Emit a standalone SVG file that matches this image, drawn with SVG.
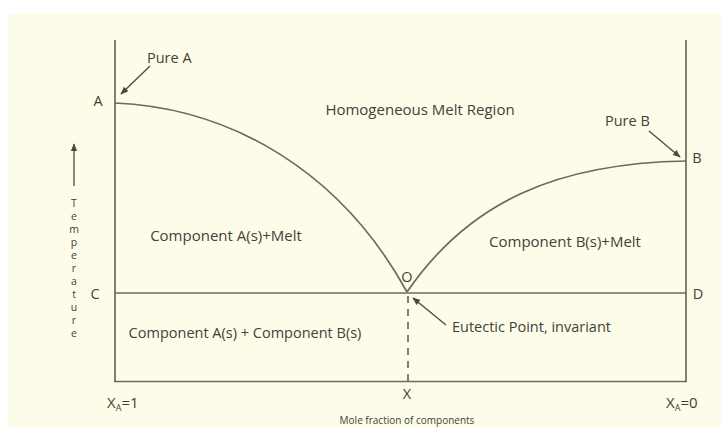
<svg xmlns="http://www.w3.org/2000/svg" width="721" height="428" viewBox="0 0 721 428">
  <style>
    .ln { stroke: #6f675d; stroke-width: 1.7; fill: none; }
    .ar { stroke: #4d4740; stroke-width: 1.3; fill: none; }
    .t { font-family: "Open Sans", "Noto Sans", "Liberation Sans", sans-serif; fill: #443f39; font-size: 14.5px; }
    .r { font-size: 15px; }
    .xa { font-size: 15px; }
    .s { font-size: 9px; }
    .cap { font-size: 10px; }
    .v { font-size: 10.5px; }
  </style>
  <defs>
    <marker id="head" viewBox="0 0 10 10" refX="9" refY="5" markerWidth="8" markerHeight="8" orient="auto" markerUnits="userSpaceOnUse">
      <path d="M0,1 L10,5 L0,9 Z" fill="#4d4740"/>
    </marker>
  </defs>

  <!-- page -->
  <rect x="0" y="0" width="721" height="428" fill="#ffffff"/>
  <rect x="8" y="14" width="713" height="414" fill="#fdfce9"/>

  <!-- frame, isotherm and liquidus curves -->
  <g id="connectors">
    <line class="ln" x1="115" y1="40" x2="115" y2="382"/>
    <line class="ln" x1="686" y1="40" x2="686" y2="382"/>
    <line class="ln" x1="114" y1="381.5" x2="687" y2="381.5"/>
    <line class="ln" x1="115" y1="293" x2="686" y2="293"/>
    <path class="ln" d="M115,103 C230,108 340,170 407,292"/>
    <path class="ln" d="M407,292 C470,200 560,163 686,161"/>
    <line class="ln" x1="408" y1="296" x2="408" y2="385" stroke-dasharray="7,6"/>
    <line class="ar" x1="150" y1="66" x2="121" y2="94" marker-end="url(#head)"/>
    <line class="ar" x1="649" y1="131" x2="680" y2="157" marker-end="url(#head)"/>
    <line class="ar" x1="446" y1="325" x2="413" y2="298" marker-end="url(#head)"/>
    <line class="ar" x1="74" y1="186" x2="74" y2="144" marker-end="url(#head)"/>
  </g>

  <g id="point-A"><text class="t" x="98" y="106" text-anchor="middle">A</text></g>
  <g id="pure-A"><text class="t" x="147" y="63">Pure A</text></g>
  <g id="point-B"><text class="t" x="697" y="163" text-anchor="middle">B</text></g>
  <g id="pure-B"><text class="t" x="605" y="126">Pure B</text></g>
  <g id="point-C"><text class="t" x="95" y="299" text-anchor="middle">C</text></g>
  <g id="point-D"><text class="t" x="698" y="299" text-anchor="middle">D</text></g>
  <g id="point-O"><text class="t" x="407" y="282" text-anchor="middle">O</text></g>
  <g id="point-X"><text class="t" x="407" y="399" text-anchor="middle">X</text></g>

  <g id="region-melt"><text class="t r" x="420" y="115" text-anchor="middle">Homogeneous Melt Region</text></g>
  <g id="region-A-melt"><text class="t r" x="226" y="241" text-anchor="middle">Component A(s)+Melt</text></g>
  <g id="region-B-melt"><text class="t r" x="565" y="247" text-anchor="middle">Component B(s)+Melt</text></g>
  <g id="region-solid"><text class="t" x="245" y="338" text-anchor="middle">Component A(s) + Component B(s)</text></g>
  <g id="eutectic"><text class="t" x="452" y="332">Eutectic Point, invariant</text></g>

  <g id="axis-x">
    <text class="t xa" x="107" y="408">X<tspan class="s" dy="3">A</tspan><tspan dy="-3">=1</tspan></text>
    <text class="t xa" x="666" y="408">X<tspan class="s" dy="3">A</tspan><tspan dy="-3">=0</tspan></text>
    <text class="t cap" x="407" y="424" text-anchor="middle">Mole fraction of components</text>
  </g>

  <!-- vertical axis caption, one letter per line -->
  <g id="axis-y">
    <text class="t v" text-anchor="middle" x="74" y="207">T<tspan x="74" dy="13">e</tspan><tspan x="74" dy="13">m</tspan><tspan x="74" dy="13">p</tspan><tspan x="74" dy="13">e</tspan><tspan x="74" dy="13">r</tspan><tspan x="74" dy="13">a</tspan><tspan x="74" dy="13">t</tspan><tspan x="74" dy="13">u</tspan><tspan x="74" dy="13">r</tspan><tspan x="74" dy="13">e</tspan></text>
  </g>
</svg>
